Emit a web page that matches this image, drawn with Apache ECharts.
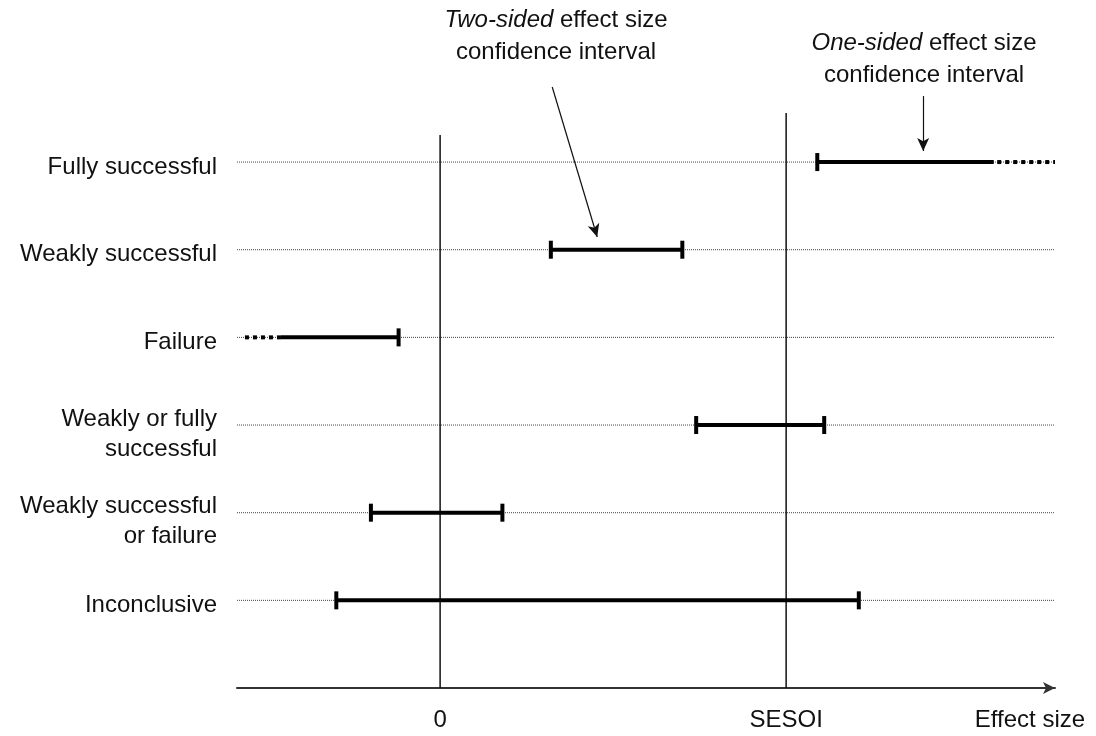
<!DOCTYPE html>
<html>
<head>
<meta charset="utf-8">
<script src="https://cdn.jsdelivr.net/npm/echarts@6/dist/echarts.min.js"></script>
<style>html,body{margin:0;padding:0;background:#fff}#chart{width:1096px;height:736px}</style>
</head>
<body>
<div id="chart"></div>
<script>
// ---- data ----
const rowLabels = ['Fully successful', 'Weakly successful', 'Failure', 'Weakly or fully\nsuccessful', 'Weakly successful\nor failure', 'Inconclusive'];
const rowIndex = [0, 1, 2, 3, 4, 5];
const ciLower = [1.09, 0.32, -0.46, 0.74, -0.20, -0.30];
const ciUpper = [1.60, 0.70, -0.12, 1.11, 0.18, 1.21];
const capLower = [1, 1, 0, 1, 1, 1];
const capUpper = [0, 1, 1, 1, 1, 1];
const openRows = [0, 2];
const openFrom = [1.61, -0.46];
const openTo = [1.777, -0.575];
const refValues = [0, 1];
const refLabels = ['0', 'SESOI'];
const refTops = [-0.31, -0.56];
const xMin = -0.587, xMax = 1.777;

const FONT = "'Liberation Sans', Arial, sans-serif";
const INK = '#111';

const chart = echarts.init(document.getElementById('chart'));

const ciData = rowIndex.map((r, i) => [r, ciLower[i], ciUpper[i], capLower[i], capUpper[i]]);
const openData = openRows.map((r, i) => [r, openFrom[i], openTo[i]]);
const refData = refValues.map((v, i) => [v, refTops[i]]);

function rowLabel(v) {
  if (!(v >= 0 && v < rowLabels.length)) return '';
  const lines = rowLabels[v].split('\n');
  if (lines.length === 1) return '{a|' + lines[0] + '}';
  return lines.map(l => '{m|' + l + '}').join('\n');
}

const txt = { fontSize: 24, fontFamily: FONT, color: INK, align: 'right', lineHeight: 30 };

chart.setOption({
  animation: false,
  backgroundColor: '#fff',
  grid: { left: 237, right: 41, top: 74.4, bottom: 48, containLabel: false, outerBoundsMode: 'none' },
  xAxis: {
    type: 'value', min: xMin, max: xMax,
    axisLine: { show: true, onZero: false, symbol: ['none', 'arrow'], symbolSize: [9, 12], lineStyle: { color: '#333', width: 2 } },
    axisTick: { show: false },
    splitLine: { show: false },
    axisLabel: {
      customValues: refValues,
      formatter: v => refLabels[refValues.indexOf(v)] || '',
      fontSize: 24, fontFamily: FONT, color: INK, margin: 20
    },
    name: 'Effect size', nameLocation: 'end', nameGap: -25,
    nameTextStyle: { fontSize: 24, fontFamily: FONT, color: INK, align: 'center', verticalAlign: 'top', lineHeight: 64 }
  },
  yAxis: {
    type: 'value', inverse: true, min: -1, max: 6, interval: 1,
    axisLine: { show: false }, axisTick: { show: false }, splitLine: { show: false },
    axisLabel: {
      formatter: rowLabel,
      fontSize: 24, fontFamily: FONT, color: INK, margin: 20, align: 'right',
      rich: {
        a: Object.assign({}, txt, { padding: [10, 0, 0, 0] }),
        m: Object.assign({}, txt, { padding: [18, 0, 0, 0] })
      }
    }
  },
  graphic: [
    {
      type: 'text', x: 556, y: 4, silent: true,
      style: {
        text: '{i|Two-sided} effect size\nconfidence interval',
        fontSize: 24, fontFamily: FONT, fill: INK, align: 'center', verticalAlign: 'top', lineHeight: 32,
        rich: { i: { fontStyle: 'italic', fontSize: 24, fontFamily: FONT, fill: INK, lineHeight: 32 } }
      }
    },
    {
      type: 'text', x: 924, y: 27, silent: true,
      style: {
        text: '{i|One-sided} effect size\nconfidence interval',
        fontSize: 24, fontFamily: FONT, fill: INK, align: 'center', verticalAlign: 'top', lineHeight: 32,
        rich: { i: { fontStyle: 'italic', fontSize: 24, fontFamily: FONT, fill: INK, lineHeight: 32 } }
      }
    }
  ],
  series: [
    {
      type: 'custom', name: 'guides', silent: true,
      data: rowIndex.map(r => [r]),
      encode: { y: 0 },
      renderItem: (params, api) => {
        const r = api.value(0);
        const a = api.coord([xMin, r]), b = api.coord([xMax, r]);
        return { type: 'line', shape: { x1: a[0], y1: a[1], x2: b[0], y2: b[1] },
          style: { stroke: '#444', lineWidth: 1, lineDash: [1, 1] } };
      },
      markLine: {
        silent: true, symbol: ['none', 'arrow'], symbolSize: [9, 13],
        lineStyle: { color: INK, width: 1.2, type: 'solid' },
        label: { show: false }, emphasis: { disabled: true },
        data: [
          [{ coord: [0.324, -0.856] }, { coord: [0.454, 0.855] }],
          [{ coord: [1.396, -0.753] }, { coord: [1.396, -0.126] }]
        ]
      }
    },
    {
      type: 'custom', name: 'reference', silent: true,
      data: refData,
      encode: { x: 0, y: 1 },
      renderItem: (params, api) => {
        const x = api.value(0), top = api.value(1);
        const a = api.coord([x, top]), b = api.coord([x, 6]);
        return { type: 'line', shape: { x1: a[0], y1: a[1], x2: b[0], y2: b[1] },
          style: { stroke: INK, lineWidth: 1.5 } };
      }
    },
    {
      type: 'custom', name: 'open', silent: true,
      data: openData,
      encode: { x: [1, 2], y: 0 },
      renderItem: (params, api) => {
        const r = api.value(0);
        const a = api.coord([api.value(1), r]), b = api.coord([api.value(2), r]);
        return { type: 'line', shape: { x1: a[0], y1: a[1], x2: b[0], y2: b[1] },
          style: { stroke: '#000', lineWidth: 4, lineDash: [4, 4], lineCap: 'butt' } };
      }
    },
    {
      type: 'custom', name: 'ci', silent: true,
      data: ciData,
      encode: { x: [1, 2], y: 0 },
      renderItem: (params, api) => {
        const r = api.value(0);
        const a = api.coord([api.value(1), r]), b = api.coord([api.value(2), r]);
        const children = [{ type: 'line', shape: { x1: a[0], y1: a[1], x2: b[0], y2: b[1] },
          style: { stroke: '#000', lineWidth: 4, lineCap: 'butt' } }];
        if (api.value(3)) children.push({ type: 'rect', shape: { x: a[0] - 2, y: a[1] - 9, width: 4, height: 18 }, style: { fill: '#000' } });
        if (api.value(4)) children.push({ type: 'rect', shape: { x: b[0] - 2, y: b[1] - 9, width: 4, height: 18 }, style: { fill: '#000' } });
        return { type: 'group', children };
      }
    }
  ]
});
</script>
</body>
</html>
